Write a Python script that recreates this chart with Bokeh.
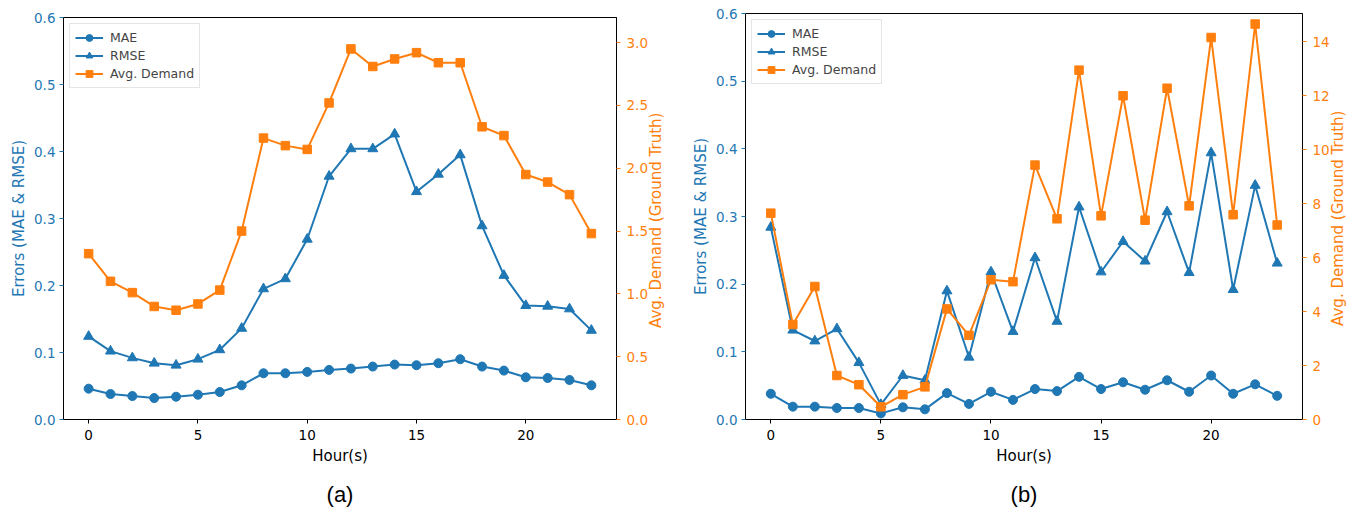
import math
from bokeh.plotting import figure
from bokeh.models import (Range1d, LinearAxis, Legend, LegendItem, FixedTicker,
                          NumeralTickFormatter, Title)
from bokeh.layouts import row, column
from bokeh.embed import file_html
from bokeh.resources import INLINE

hours = list(range(24))

# Panel (a)
mae_a = [0.046, 0.038, 0.035, 0.032, 0.034, 0.037, 0.041, 0.051, 0.069, 0.069, 0.071, 0.074,
         0.076, 0.079, 0.082, 0.081, 0.084, 0.090, 0.079, 0.073, 0.063, 0.062, 0.059, 0.051]
rmse_a = [0.124, 0.102, 0.092, 0.084, 0.081, 0.090, 0.104, 0.136, 0.195, 0.210, 0.269, 0.363,
          0.404, 0.404, 0.426, 0.340, 0.366, 0.395, 0.289, 0.215, 0.170, 0.169, 0.165, 0.133]
demand_a = [1.32, 1.10, 1.01, 0.90, 0.87, 0.92, 1.03, 1.50, 2.24, 2.18, 2.15, 2.52,
            2.95, 2.81, 2.87, 2.92, 2.84, 2.84, 2.33, 2.26, 1.95, 1.89, 1.79, 1.48]

# Panel (b)
mae_b = [0.038, 0.019, 0.019, 0.017, 0.017, 0.009, 0.018, 0.015, 0.039, 0.023, 0.041, 0.029,
         0.045, 0.042, 0.063, 0.045, 0.055, 0.044, 0.058, 0.041, 0.065, 0.038, 0.052, 0.035]
rmse_b = [0.284, 0.132, 0.116, 0.134, 0.084, 0.022, 0.065, 0.058, 0.190, 0.092, 0.218, 0.130,
          0.239, 0.145, 0.314, 0.218, 0.263, 0.234, 0.307, 0.217, 0.394, 0.192, 0.346, 0.231]
demand_b = [7.65, 3.52, 4.93, 1.63, 1.29, 0.47, 0.92, 1.21, 4.10, 3.12, 5.18, 5.11,
            9.43, 7.44, 12.95, 7.55, 12.00, 7.39, 12.28, 7.92, 14.16, 7.59, 14.66, 7.21]

x_ticks = [0, 5, 10, 15, 20]
err_ticks = [0.0, 0.1, 0.2, 0.3, 0.4, 0.5, 0.6]
dem_ticks_a = [0.0, 0.5, 1.0, 1.5, 2.0, 2.5, 3.0]
dem_ticks_b = [0, 2, 4, 6, 8, 10, 12, 14]

BLUE = "#1f77b4"
ORANGE = "#ff7f0e"
FONT = "DejaVu Sans"
TICK_PX = 13.5
LABEL_PX = 15
RLABEL = "Avg. Demand (Ground Truth)"
RLABEL_EM = 14.587  # DejaVu Sans advance width of RLABEL in em


def style_axis(ax, color, ticks, fmt, standoff):
    ax.ticker = FixedTicker(ticks=ticks)
    ax.formatter = NumeralTickFormatter(format=fmt)
    ax.major_label_text_color = color
    ax.major_label_text_font = FONT
    ax.major_label_text_font_size = f"{TICK_PX}px"
    ax.axis_label_text_font = FONT
    ax.axis_label_text_font_size = f"{LABEL_PX}px"
    ax.axis_label_text_font_style = "normal"
    ax.axis_label_text_color = color
    ax.major_tick_line_color = color
    ax.major_tick_out = 4
    ax.major_tick_in = 0
    ax.minor_tick_line_color = None
    ax.axis_line_color = "black"
    ax.major_label_standoff = standoff


def make_panel(mae, rmse, demand, dem_max, dem_ticks, dem_fmt, caption,
               frame_w, frame_h, min_left, min_right, min_top):
    p = figure(frame_width=frame_w, frame_height=frame_h,
               x_range=Range1d(-1.15, 24.15),
               y_range=Range1d(0, 0.6), output_backend="svg", toolbar_location=None,
               min_border_left=min_left, min_border_right=min_right,
               min_border_top=min_top, min_border_bottom=10)
    p.xgrid.visible = False
    p.ygrid.visible = False
    p.outline_line_color = "black"
    p.outline_line_alpha = 1
    p.background_fill_color = "white"

    p.extra_y_ranges = {"demand": Range1d(0, dem_max)}
    rax = LinearAxis(y_range_name="demand")
    p.add_layout(rax, "right")

    xax = p.xaxis[0]
    style_axis(xax, "black", x_ticks, "0", 6)
    xax.axis_label = "Hour(s)"
    xax.axis_label_standoff = 4
    yax = p.yaxis[0]
    style_axis(yax, BLUE, err_ticks, "0.0", 4)
    yax.axis_label = "Errors (MAE & RMSE)"
    yax.axis_label_standoff = 3
    style_axis(rax, ORANGE, dem_ticks, dem_fmt, 6)

    # right-hand axis title, drawn as a single rotated tick label (reads bottom-to-top),
    # its start placed so that the text is centred along the frame
    text_len = RLABEL_EM * LABEL_PX
    start_val = (frame_h / 2 - text_len / 2) / frame_h * dem_max
    lax = LinearAxis(y_range_name="demand")
    lax.ticker = FixedTicker(ticks=[start_val])
    lax.major_label_overrides = {start_val: RLABEL}
    lax.major_label_orientation = math.pi / 2
    lax.major_label_text_font = FONT
    lax.major_label_text_font_size = f"{LABEL_PX}px"
    lax.major_label_text_color = ORANGE
    lax.major_label_standoff = 6
    lax.major_tick_out = 0
    lax.major_tick_in = 0
    lax.axis_line_color = None
    lax.major_tick_line_color = None
    lax.minor_tick_line_color = None
    p.add_layout(lax, "right")

    l1 = p.line(hours, mae, color=BLUE, line_width=2)
    s1 = p.scatter(hours, mae, marker="circle", size=9, color=BLUE)
    l2 = p.line(hours, rmse, color=BLUE, line_width=2)
    s2 = p.scatter(hours, rmse, marker="triangle", size=10, color=BLUE)
    l3 = p.line(hours, demand, color=ORANGE, line_width=2, y_range_name="demand")
    s3 = p.scatter(hours, demand, marker="square", size=8.5, color=ORANGE, y_range_name="demand")

    legend = Legend(items=[
        LegendItem(label="MAE", renderers=[l1, s1]),
        LegendItem(label="RMSE", renderers=[l2, s2]),
        LegendItem(label="Avg. Demand", renderers=[l3, s3]),
    ], location="top_left")
    legend.label_text_font = FONT
    legend.label_text_font_size = "12.5px"
    legend.label_height = 17
    legend.glyph_height = 17
    legend.glyph_width = 28
    legend.label_standoff = 7
    legend.spacing = 1
    legend.padding = 5
    legend.margin = 6
    legend.border_line_color = "#cccccc"
    legend.border_line_width = 1
    legend.background_fill_alpha = 0.8
    p.add_layout(legend)

    t = Title(text=caption, align="center", text_font="Liberation Sans",
              text_font_size="22px", text_font_style="normal", text_color="black",
              standoff=25)
    p.add_layout(t, "below")
    return p


pa = make_panel(mae_a, rmse_a, demand_a, 3.2, dem_ticks_a, "0.0", "(a)",
                553, 402, 63, 72, 17)
pb = make_panel(mae_b, rmse_b, demand_b, 15.05, dem_ticks_b, "0", "(b)",
                557, 406, 57, 55, 13)

layout = row(column(pa), column(pb))
open("out.html", "w").write(file_html(layout, INLINE))
